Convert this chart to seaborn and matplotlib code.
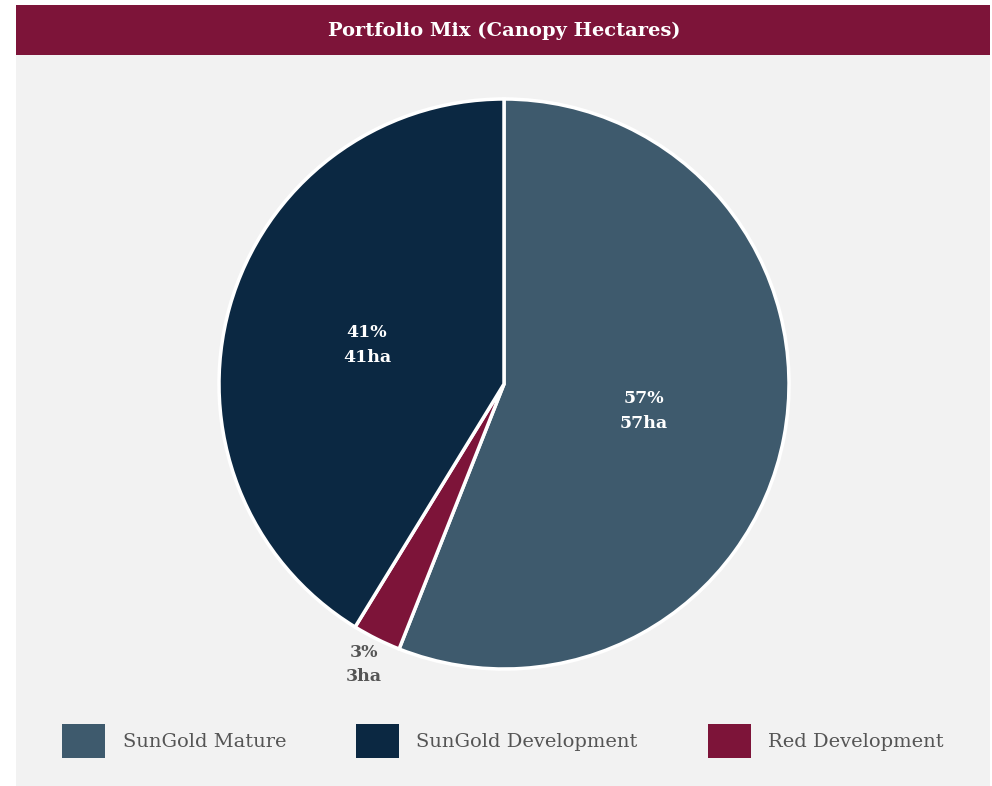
import matplotlib
matplotlib.use("Agg")
import numpy as np
import matplotlib.pyplot as plt
import seaborn as sns
from matplotlib.patches import Rectangle

# data
categories = ["SunGold Mature", "Red Development", "SunGold Development"]
hectares = [56.0, 2.75, 41.25]
pct_labels = [57, 3, 41]
ha_labels = [57, 3, 41]
colors = ["#3e5a6d", "#7d1439", "#0b2842"]
legend_order = ["SunGold Mature", "SunGold Development", "Red Development"]

sns.set_theme(style="white")
plt.rcParams['font.family'] = ['DejaVu Serif']

fig = plt.figure(figsize=(9.92, 7.86), dpi=100, facecolor="white")

# background panel and title bar
fig.patches.append(Rectangle((16/992, 0), 974/992, 1 - 55/786, transform=fig.transFigure,
                             facecolor="#f2f2f2", edgecolor="none", zorder=-5))
fig.patches.append(Rectangle((16/992, 1 - 55/786), 974/992, 50/786, transform=fig.transFigure,
                             facecolor="#7d1439", edgecolor="none", zorder=-5))
fig.text(504/992, 1 - 31/786, "Portfolio Mix (Canopy Hectares)", ha="center", va="center",
         color="white", fontsize=14, fontweight="bold")

ax = fig.add_axes([219/992, 1 - 669/786, 570/992, 570/786])
ax.set_facecolor("none")
ax.set_zorder(2)
wedges, _ = ax.pie(hectares, colors=colors, startangle=90, counterclock=False,
                   wedgeprops=dict(edgecolor="white", linewidth=2.5))
ax.set_xlim(-1, 1)
ax.set_ylim(-1, 1)
ax.set_aspect("equal")
ax.axis("off")

for w, p, h in zip(wedges, pct_labels, ha_labels):
    w.set_clip_on(False)
    ang = np.deg2rad((w.theta1 + w.theta2) / 2)
    txt = f"{p}%\n{h}ha"
    if p < 5:
        r, col = 1.1, "#555555"
    else:
        r, col = 0.5, "white"
    ax.text(r * np.cos(ang), r * np.sin(ang), txt, ha="center", va="center", color=col,
            fontsize=12.5, fontweight="bold", linespacing=1.6, clip_on=False)

# legend
handles = [Rectangle((0, 0), 1, 1, facecolor=colors[categories.index(c)], edgecolor="none")
           for c in legend_order]
fig.legend(handles, legend_order, loc="center", bbox_to_anchor=(503/992, 1 - 741/786), ncol=3,
           frameon=False, fontsize=14, labelcolor="#555555", handlelength=2.2, handleheight=2.3,
           columnspacing=3.6, handletextpad=0.9)

fig.savefig("out.png", dpi=100, facecolor="white")
